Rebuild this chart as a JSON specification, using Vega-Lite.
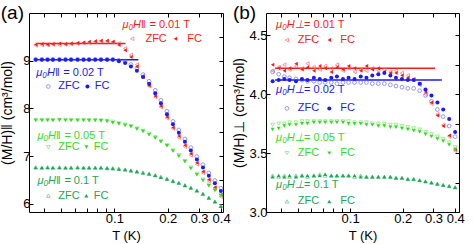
{
"$schema": "https://vega.github.io/schema/vega-lite/v6.json",
"padding": {"left": 0, "top": 3, "right": 4, "bottom": 0},
"config": {
  "font": "Liberation Sans",
  "view": {"stroke": "black", "strokeWidth": 1},
  "axis": {"domain": false, "grid": false, "tickColor": "black", "tickSize": -4, "labelColor": "black", "labelFontSize": 13, "titleColor": "black", "titleFontWeight": "normal", "titleFontSize": 13, "labelOverlap": false, "labelFlush": false},
  "title": {"fontWeight": "normal", "fontSize": 19, "color": "black", "anchor": "start", "frame": "bounds", "offset": -10}
},
"datasets": {
  "pa": [
    {"T":0.036,"rf":9.34,"rz":9.32,"bf":9.02,"bz":9.03,"gf":7.75,"gz":7.76,"df":6.76,"dz":6.77},
    {"T":0.039,"rf":9.35,"rz":9.33,"bf":9.02,"bz":9.03,"gf":7.75,"gz":7.76,"df":6.76,"dz":6.76},
    {"T":0.042,"rf":9.34,"rz":9.33,"bf":9.02,"bz":9.03,"gf":7.75,"gz":7.76,"df":6.76,"dz":6.77},
    {"T":0.045,"rf":9.35,"rz":9.34,"bf":9.02,"bz":9.03,"gf":7.75,"gz":7.75,"df":6.76,"dz":6.76},
    {"T":0.049,"rf":9.36,"rz":9.33,"bf":9.02,"bz":9.03,"gf":7.76,"gz":7.76,"df":6.76,"dz":6.77},
    {"T":0.053,"rf":9.35,"rz":9.34,"bf":9.02,"bz":9.03,"gf":7.75,"gz":7.76,"df":6.76,"dz":6.76},
    {"T":0.057,"rf":9.36,"rz":9.35,"bf":9.02,"bz":9.03,"gf":7.75,"gz":7.76,"df":6.76,"dz":6.76},
    {"T":0.062,"rf":9.37,"rz":9.36,"bf":9.02,"bz":9.03,"gf":7.75,"gz":7.75,"df":6.76,"dz":6.77},
    {"T":0.067,"rf":9.38,"rz":9.37,"bf":9.02,"bz":9.03,"gf":7.75,"gz":7.76,"df":6.76,"dz":6.76},
    {"T":0.072,"rf":9.40,"rz":9.38,"bf":9.02,"bz":9.03,"gf":7.75,"gz":7.75,"df":6.76,"dz":6.76},
    {"T":0.078,"rf":9.41,"rz":9.40,"bf":9.02,"bz":9.03,"gf":7.75,"gz":7.75,"df":6.76,"dz":6.76},
    {"T":0.084,"rf":9.42,"rz":9.41,"bf":9.02,"bz":9.03,"gf":7.74,"gz":7.75,"df":6.76,"dz":6.76},
    {"T":0.091,"rf":9.42,"rz":9.41,"bf":9.02,"bz":9.03,"gf":7.73,"gz":7.74,"df":6.75,"dz":6.75},
    {"T":0.098,"rf":9.40,"rz":9.39,"bf":9.02,"bz":9.03,"gf":7.70,"gz":7.72,"df":6.74,"dz":6.75},
    {"T":0.106,"rf":9.33,"rz":9.36,"bf":8.99,"bz":9.01,"gf":7.68,"gz":7.69,"df":6.73,"dz":6.74},
    {"T":0.115,"rf":9.22,"rz":9.26,"bf":8.95,"bz":8.98,"gf":7.65,"gz":7.66,"df":6.72,"dz":6.72},
    {"T":0.124,"rf":9.08,"rz":9.12,"bf":8.88,"bz":8.92,"gf":7.62,"gz":7.63,"df":6.70,"dz":6.70},
    {"T":0.134,"rf":8.88,"rz":8.92,"bf":8.79,"bz":8.83,"gf":7.57,"gz":7.58,"df":6.68,"dz":6.68},
    {"T":0.145,"rf":8.66,"rz":8.68,"bf":8.66,"bz":8.71,"gf":7.52,"gz":7.53,"df":6.65,"dz":6.66},
    {"T":0.157,"rf":8.48,"rz":8.47,"bf":8.52,"bz":8.57,"gf":7.45,"gz":7.47,"df":6.63,"dz":6.63},
    {"T":0.170,"rf":8.26,"rz":8.24,"bf":8.32,"bz":8.38,"gf":7.38,"gz":7.40,"df":6.60,"dz":6.60},
    {"T":0.183,"rf":8.05,"rz":8.03,"bf":8.11,"bz":8.17,"gf":7.30,"gz":7.32,"df":6.56,"dz":6.57},
    {"T":0.198,"rf":7.82,"rz":7.80,"bf":7.88,"bz":7.94,"gf":7.22,"gz":7.23,"df":6.52,"dz":6.53},
    {"T":0.214,"rf":7.60,"rz":7.58,"bf":7.67,"bz":7.73,"gf":7.11,"gz":7.12,"df":6.48,"dz":6.48},
    {"T":0.231,"rf":7.42,"rz":7.39,"bf":7.49,"bz":7.55,"gf":7.00,"gz":7.02,"df":6.44,"dz":6.44},
    {"T":0.250,"rf":7.23,"rz":7.20,"bf":7.30,"bz":7.36,"gf":6.89,"gz":6.90,"df":6.39,"dz":6.39},
    {"T":0.270,"rf":7.05,"rz":7.02,"bf":7.12,"bz":7.18,"gf":6.74,"gz":6.76,"df":6.34,"dz":6.34},
    {"T":0.292,"rf":6.86,"rz":6.83,"bf":6.93,"bz":6.99,"gf":6.61,"gz":6.63,"df":6.28,"dz":6.28},
    {"T":0.316,"rf":6.68,"rz":6.65,"bf":6.76,"bz":6.82,"gf":6.49,"gz":6.51,"df":6.21,"dz":6.21},
    {"T":0.341,"rf":6.51,"rz":6.48,"bf":6.59,"bz":6.65,"gf":6.38,"gz":6.40,"df":6.13,"dz":6.13},
    {"T":0.369,"rf":6.35,"rz":6.32,"bf":6.43,"bz":6.49,"gf":6.28,"gz":6.30,"df":6.05,"dz":6.05},
    {"T":0.399,"rf":6.19,"rz":6.15,"bf":6.27,"bz":6.33,"gf":6.17,"gz":6.19,"df":5.95,"dz":5.96}
  ],
  "pb": [
    {"T":0.036,"rf":4.25,"rz":4.20,"bf":4.11,"bz":4.19,"gf":3.70,"gz":3.74,"df":3.30,"dz":3.31},
    {"T":0.039,"rf":4.22,"rz":4.23,"bf":4.12,"bz":4.17,"gf":3.71,"gz":3.75,"df":3.31,"dz":3.30},
    {"T":0.042,"rf":4.20,"rz":4.25,"bf":4.13,"bz":4.15,"gf":3.73,"gz":3.75,"df":3.30,"dz":3.31},
    {"T":0.045,"rf":4.22,"rz":4.21,"bf":4.12,"bz":4.14,"gf":3.74,"gz":3.76,"df":3.31,"dz":3.30},
    {"T":0.049,"rf":4.26,"rz":4.24,"bf":4.11,"bz":4.13,"gf":3.74,"gz":3.76,"df":3.30,"dz":3.31},
    {"T":0.053,"rf":4.21,"rz":4.22,"bf":4.13,"bz":4.12,"gf":3.75,"gz":3.77,"df":3.31,"dz":3.31},
    {"T":0.057,"rf":4.23,"rz":4.26,"bf":4.12,"bz":4.11,"gf":3.75,"gz":3.77,"df":3.31,"dz":3.30},
    {"T":0.062,"rf":4.20,"rz":4.23,"bf":4.14,"bz":4.11,"gf":3.76,"gz":3.77,"df":3.31,"dz":3.31},
    {"T":0.067,"rf":4.24,"rz":4.21,"bf":4.13,"bz":4.10,"gf":3.76,"gz":3.77,"df":3.31,"dz":3.32},
    {"T":0.072,"rf":4.22,"rz":4.24,"bf":4.12,"bz":4.10,"gf":3.76,"gz":3.77,"df":3.32,"dz":3.31},
    {"T":0.078,"rf":4.19,"rz":4.22,"bf":4.14,"bz":4.10,"gf":3.76,"gz":3.77,"df":3.31,"dz":3.31},
    {"T":0.084,"rf":4.23,"rz":4.25,"bf":4.15,"bz":4.09,"gf":3.76,"gz":3.77,"df":3.31,"dz":3.31},
    {"T":0.091,"rf":4.21,"rz":4.20,"bf":4.13,"bz":4.10,"gf":3.76,"gz":3.77,"df":3.31,"dz":3.31},
    {"T":0.098,"rf":4.24,"rz":4.22,"bf":4.14,"bz":4.10,"gf":3.75,"gz":3.77,"df":3.31,"dz":3.31},
    {"T":0.106,"rf":4.22,"rz":4.19,"bf":4.13,"bz":4.10,"gf":3.75,"gz":3.76,"df":3.31,"dz":3.30},
    {"T":0.115,"rf":4.20,"rz":4.21,"bf":4.15,"bz":4.10,"gf":3.75,"gz":3.76,"df":3.30,"dz":3.31},
    {"T":0.124,"rf":4.24,"rz":4.20,"bf":4.14,"bz":4.10,"gf":3.74,"gz":3.76,"df":3.30,"dz":3.30},
    {"T":0.134,"rf":4.21,"rz":4.22,"bf":4.16,"bz":4.09,"gf":3.74,"gz":3.75,"df":3.30,"dz":3.30},
    {"T":0.145,"rf":4.22,"rz":4.20,"bf":4.17,"bz":4.09,"gf":3.73,"gz":3.75,"df":3.30,"dz":3.30},
    {"T":0.157,"rf":4.19,"rz":4.21,"bf":4.18,"bz":4.09,"gf":3.73,"gz":3.75,"df":3.30,"dz":3.30},
    {"T":0.170,"rf":4.18,"rz":4.19,"bf":4.16,"bz":4.08,"gf":3.72,"gz":3.74,"df":3.30,"dz":3.30},
    {"T":0.183,"rf":4.18,"rz":4.20,"bf":4.14,"bz":4.07,"gf":3.72,"gz":3.74,"df":3.29,"dz":3.29},
    {"T":0.198,"rf":4.16,"rz":4.18,"bf":4.13,"bz":4.06,"gf":3.71,"gz":3.73,"df":3.29,"dz":3.29},
    {"T":0.214,"rf":4.14,"rz":4.16,"bf":4.12,"bz":4.05,"gf":3.70,"gz":3.72,"df":3.28,"dz":3.28},
    {"T":0.231,"rf":4.12,"rz":4.13,"bf":4.12,"bz":4.05,"gf":3.69,"gz":3.71,"df":3.28,"dz":3.28},
    {"T":0.250,"rf":4.09,"rz":4.08,"bf":4.09,"bz":4.03,"gf":3.68,"gz":3.70,"df":3.27,"dz":3.27},
    {"T":0.270,"rf":4.02,"rz":4.00,"bf":4.04,"bz":3.99,"gf":3.66,"gz":3.68,"df":3.26,"dz":3.26},
    {"T":0.292,"rf":3.93,"rz":3.92,"bf":3.99,"bz":3.94,"gf":3.64,"gz":3.66,"df":3.25,"dz":3.25},
    {"T":0.316,"rf":3.82,"rz":3.83,"bf":3.93,"bz":3.87,"gf":3.62,"gz":3.64,"df":3.24,"dz":3.24},
    {"T":0.341,"rf":3.73,"rz":3.74,"bf":3.87,"bz":3.81,"gf":3.60,"gz":3.62,"df":3.23,"dz":3.23},
    {"T":0.369,"rf":3.65,"rz":3.64,"bf":3.79,"bz":3.73,"gf":3.57,"gz":3.59,"df":3.22,"dz":3.22},
    {"T":0.399,"rf":3.53,"rz":3.52,"bf":3.68,"bz":3.64,"gf":3.53,"gz":3.55,"df":3.21,"dz":3.21}
  ],
  "ra": [
    {"T":0.0363,"T2":0.1154,"M":9.36,"k":"rf"},
    {"T":0.0363,"T2":0.1366,"M":9.02,"k":"bf"}
  ],
  "rb": [
    {"T":0.0372,"T2":0.306,"M":4.22,"k":"rf"},
    {"T":0.0372,"T2":0.335,"M":4.12,"k":"bf"}
  ],
  "sa": [
    {"T":0.126,"M":9.46,"key":"rz","f":0},
    {"T":0.221,"M":9.46,"key":"rf","f":1},
    {"T":0.0424,"M":8.46,"key":"bz","f":0},
    {"T":0.0705,"M":8.46,"key":"bf","f":1},
    {"T":0.0424,"M":7.19,"key":"gz","f":0},
    {"T":0.0695,"M":7.19,"key":"gf","f":1},
    {"T":0.0424,"M":6.17,"key":"dz","f":0},
    {"T":0.0695,"M":6.17,"key":"df","f":1}
  ],
  "sb": [
    {"T":0.0435,"M":4.46,"key":"rz","f":0},
    {"T":0.076,"M":4.46,"key":"rf","f":1},
    {"T":0.0435,"M":3.88,"key":"bz","f":0},
    {"T":0.076,"M":3.88,"key":"bf","f":1},
    {"T":0.0435,"M":3.50,"key":"gz","f":0},
    {"T":0.076,"M":3.50,"key":"gf","f":1},
    {"T":0.0435,"M":3.09,"key":"dz","f":0},
    {"T":0.076,"M":3.09,"key":"df","f":1}
  ],
  "ta": [
    {"T":0.111,"M":9.75,"t":"μ₀H‖","k":"rf","s":"p"},
    {"T":0.111,"M":9.75,"t":"= 0.01 T","k":"rf","s":"r"},
    {"T":0.1497,"M":9.46,"t":"ZFC","k":"rf","s":"l"},
    {"T":0.258,"M":9.46,"t":"FC","k":"rf","s":"l"},
    {"T":0.0363,"M":8.75,"t":"μ₀H‖","k":"bf","s":"p"},
    {"T":0.0363,"M":8.75,"t":"= 0.02 T","k":"bf","s":"r"},
    {"T":0.0483,"M":8.46,"t":"ZFC","k":"bf","s":"l"},
    {"T":0.0775,"M":8.46,"t":"FC","k":"bf","s":"l"},
    {"T":0.0368,"M":7.42,"t":"μ₀H‖","k":"gf","s":"p"},
    {"T":0.0368,"M":7.42,"t":"= 0.05 T","k":"gf","s":"r"},
    {"T":0.0483,"M":7.19,"t":"ZFC","k":"gf","s":"l"},
    {"T":0.0765,"M":7.19,"t":"FC","k":"gf","s":"l"},
    {"T":0.0368,"M":6.48,"t":"μ₀H‖","k":"df","s":"p"},
    {"T":0.0368,"M":6.48,"t":"= 0.1 T","k":"df","s":"r"},
    {"T":0.0483,"M":6.17,"t":"ZFC","k":"df","s":"l"},
    {"T":0.0765,"M":6.17,"t":"FC","k":"df","s":"l"}
  ],
  "tb": [
    {"T":0.0377,"M":4.585,"t":"μ₀H⊥","k":"rf","s":"p"},
    {"T":0.0377,"M":4.585,"t":"= 0.01 T","k":"rf","s":"r"},
    {"T":0.0502,"M":4.46,"t":"ZFC","k":"rf","s":"l"},
    {"T":0.0878,"M":4.46,"t":"FC","k":"rf","s":"l"},
    {"T":0.0377,"M":4.04,"t":"μ₀H⊥","k":"bf","s":"p"},
    {"T":0.0377,"M":4.04,"t":"= 0.02 T","k":"bf","s":"r"},
    {"T":0.0502,"M":3.88,"t":"ZFC","k":"bf","s":"l"},
    {"T":0.0878,"M":3.88,"t":"FC","k":"bf","s":"l"},
    {"T":0.0377,"M":3.63,"t":"μ₀H⊥","k":"gf","s":"p"},
    {"T":0.0377,"M":3.63,"t":"= 0.05 T","k":"gf","s":"r"},
    {"T":0.0502,"M":3.50,"t":"ZFC","k":"gf","s":"l"},
    {"T":0.0878,"M":3.50,"t":"FC","k":"gf","s":"l"},
    {"T":0.0377,"M":3.23,"t":"μ₀H⊥","k":"df","s":"p"},
    {"T":0.0377,"M":3.23,"t":"= 0.1 T","k":"df","s":"r"},
    {"T":0.0502,"M":3.09,"t":"ZFC","k":"df","s":"l"},
    {"T":0.0878,"M":3.09,"t":"FC","k":"df","s":"l"}
  ]
},
"bounds": "flush",
"spacing": 43,
"hconcat": [
  {
    "width": 194, "height": 199,
    "title": {"text": "(a)"},
    "resolve": {"axis": {"x": "independent", "y": "independent"}},
    "layer": [
      {"layer": [
        {"data": {"name": "ra"}, "mark": {"type": "rule", "strokeWidth": 1.5},
         "encoding": {
           "x": {"field": "T", "type": "quantitative", "scale": {"type": "log", "domain": [0.033, 0.41], "nice": false},
                 "axis": {"title": "T (K)", "values": [0.04,0.05,0.06,0.07,0.08,0.09,0.1,0.2,0.3,0.4], "format": ".1f", "labelExpr": "(datum.value==0.1||datum.value==0.2||datum.value==0.3||datum.value==0.4) ? datum.label : ''", "labelPadding": 4, "titlePadding": 4}},
           "x2": {"field": "T2"},
           "y": {"field": "M", "type": "quantitative", "scale": {"domain": [5.83, 10.0], "nice": false, "zero": false},
                 "axis": {"title": "(M/H)‖ (cm³/mol)", "titleFontSize": 14, "values": [6,6.5,7,7.5,8,8.5,9,9.5], "format": ".0f", "labelExpr": "datum.value % 1 == 0 ? datum.label : ''", "labelPadding": 3, "titlePadding": 8}},
           "color": {"field": "k", "type": "nominal", "legend": null,
                     "scale": {"domain": ["rz","rf","bz","bf","gz","gf","dz","df"], "range": ["#ff6a6a","#ff1a1a","#6a6aff","#1a1aff","#70ee60","#33dd22","#5cc488","#1aa852"]}}
         }},
        {"data": {"name": "pa"}, "transform": [{"fold": ["rz","bz","gz","dz"], "as": ["key","M"]}],
         "mark": {"type": "point", "filled": false, "size": 14, "strokeWidth": 1},
         "encoding": {
           "x": {"field": "T", "type": "quantitative"},
           "y": {"field": "M", "type": "quantitative"},
           "color": {"field": "key", "type": "nominal", "legend": null},
           "shape": {"field": "key", "type": "nominal", "legend": null,
                     "scale": {"domain": ["rz","rf","bz","bf","gz","gf","dz","df"], "range": ["triangle-left","triangle-left","circle","circle","triangle-down","triangle-down","triangle-up","triangle-up"]}}
         }},
        {"data": {"name": "pa"}, "transform": [{"fold": ["rf","bf","gf","df"], "as": ["key","M"]}],
         "mark": {"type": "point", "filled": true, "size": 16, "opacity": 1},
         "encoding": {
           "x": {"field": "T", "type": "quantitative"},
           "y": {"field": "M", "type": "quantitative"},
           "color": {"field": "key", "type": "nominal", "legend": null},
           "shape": {"field": "key", "type": "nominal", "legend": null}
         }},
        {"data": {"name": "sa"}, "transform": [{"filter": "datum.f == 0"}],
         "mark": {"type": "point", "filled": false, "size": 14, "strokeWidth": 1},
         "encoding": {
           "x": {"field": "T", "type": "quantitative"},
           "y": {"field": "M", "type": "quantitative"},
           "color": {"field": "key", "type": "nominal", "legend": null},
           "shape": {"field": "key", "type": "nominal", "legend": null}
         }},
        {"data": {"name": "sa"}, "transform": [{"filter": "datum.f == 1"}],
         "mark": {"type": "point", "filled": true, "size": 16, "opacity": 1},
         "encoding": {
           "x": {"field": "T", "type": "quantitative"},
           "y": {"field": "M", "type": "quantitative"},
           "color": {"field": "key", "type": "nominal", "legend": null},
           "shape": {"field": "key", "type": "nominal", "legend": null}
         }},
        {"data": {"name": "ta"}, "transform": [{"filter": "datum.s == 'p'"}],
         "mark": {"type": "text", "align": "left", "baseline": "middle", "fontSize": 11, "fontStyle": "italic"},
         "encoding": {
           "x": {"field": "T", "type": "quantitative"},
           "y": {"field": "M", "type": "quantitative"},
           "text": {"field": "t"},
           "color": {"field": "k", "type": "nominal", "legend": null}
         }},
        {"data": {"name": "ta"}, "transform": [{"filter": "datum.s == 'r'"}],
         "mark": {"type": "text", "align": "left", "baseline": "middle", "fontSize": 11, "dx": 27},
         "encoding": {
           "x": {"field": "T", "type": "quantitative"},
           "y": {"field": "M", "type": "quantitative"},
           "text": {"field": "t"},
           "color": {"field": "k", "type": "nominal", "legend": null}
         }},
        {"data": {"name": "ta"}, "transform": [{"filter": "datum.s == 'l'"}],
         "mark": {"type": "text", "align": "left", "baseline": "middle", "fontSize": 11},
         "encoding": {
           "x": {"field": "T", "type": "quantitative"},
           "y": {"field": "M", "type": "quantitative"},
           "text": {"field": "t"},
           "color": {"field": "k", "type": "nominal", "legend": null}
         }}
      ]},
      {"data": {"name": "ra"}, "mark": {"type": "point", "opacity": 0},
       "encoding": {
         "x": {"field": "T", "type": "quantitative", "axis": {"orient": "top", "labels": false, "title": null, "values": [0.04,0.05,0.06,0.07,0.08,0.09,0.1,0.2,0.3,0.4]}},
         "y": {"field": "M", "type": "quantitative", "axis": {"orient": "right", "labels": false, "title": null, "values": [6,6.5,7,7.5,8,8.5,9,9.5]}}
       }}
    ]
  },
  {
    "width": 193, "height": 199,
    "title": {"text": "(b)"},
    "resolve": {"axis": {"x": "independent", "y": "independent"}},
    "layer": [
      {"layer": [
        {"data": {"name": "rb"}, "mark": {"type": "rule", "strokeWidth": 1.5},
         "encoding": {
           "x": {"field": "T", "type": "quantitative", "scale": {"type": "log", "domain": [0.033, 0.42], "nice": false},
                 "axis": {"title": "T (K)", "values": [0.04,0.05,0.06,0.07,0.08,0.09,0.1,0.2,0.3,0.4], "format": ".1f", "labelExpr": "(datum.value==0.1||datum.value==0.2||datum.value==0.3||datum.value==0.4) ? datum.label : ''", "labelPadding": 4, "titlePadding": 4}},
           "x2": {"field": "T2"},
           "y": {"field": "M", "type": "quantitative", "scale": {"domain": [3.0, 4.69], "nice": false, "zero": false},
                 "axis": {"title": "(M/H)⊥ (cm³/mol)", "titleFontSize": 14, "values": [3.0,3.25,3.5,3.75,4.0,4.25,4.5], "format": ".1f", "labelExpr": "(datum.value * 2) % 1 == 0 ? datum.label : ''", "labelPadding": 3, "titlePadding": 2}},
           "color": {"field": "k", "type": "nominal", "legend": null,
                     "scale": {"domain": ["rz","rf","bz","bf","gz","gf","dz","df"], "range": ["#ff6a6a","#ff1a1a","#6a6aff","#1a1aff","#70ee60","#33dd22","#5cc488","#1aa852"]}}
         }},
        {"data": {"name": "pb"}, "transform": [{"fold": ["rz","bz","gz","dz"], "as": ["key","M"]}],
         "mark": {"type": "point", "filled": false, "size": 14, "strokeWidth": 1},
         "encoding": {
           "x": {"field": "T", "type": "quantitative"},
           "y": {"field": "M", "type": "quantitative"},
           "color": {"field": "key", "type": "nominal", "legend": null},
           "shape": {"field": "key", "type": "nominal", "legend": null,
                     "scale": {"domain": ["rz","rf","bz","bf","gz","gf","dz","df"], "range": ["triangle-left","triangle-left","circle","circle","triangle-down","triangle-down","triangle-up","triangle-up"]}}
         }},
        {"data": {"name": "pb"}, "transform": [{"fold": ["rf","bf","gf","df"], "as": ["key","M"]}],
         "mark": {"type": "point", "filled": true, "size": 16, "opacity": 1},
         "encoding": {
           "x": {"field": "T", "type": "quantitative"},
           "y": {"field": "M", "type": "quantitative"},
           "color": {"field": "key", "type": "nominal", "legend": null},
           "shape": {"field": "key", "type": "nominal", "legend": null}
         }},
        {"data": {"name": "sb"}, "transform": [{"filter": "datum.f == 0"}],
         "mark": {"type": "point", "filled": false, "size": 14, "strokeWidth": 1},
         "encoding": {
           "x": {"field": "T", "type": "quantitative"},
           "y": {"field": "M", "type": "quantitative"},
           "color": {"field": "key", "type": "nominal", "legend": null},
           "shape": {"field": "key", "type": "nominal", "legend": null}
         }},
        {"data": {"name": "sb"}, "transform": [{"filter": "datum.f == 1"}],
         "mark": {"type": "point", "filled": true, "size": 16, "opacity": 1},
         "encoding": {
           "x": {"field": "T", "type": "quantitative"},
           "y": {"field": "M", "type": "quantitative"},
           "color": {"field": "key", "type": "nominal", "legend": null},
           "shape": {"field": "key", "type": "nominal", "legend": null}
         }},
        {"data": {"name": "tb"}, "transform": [{"filter": "datum.s == 'p'"}],
         "mark": {"type": "text", "align": "left", "baseline": "middle", "fontSize": 11, "fontStyle": "italic"},
         "encoding": {
           "x": {"field": "T", "type": "quantitative"},
           "y": {"field": "M", "type": "quantitative"},
           "text": {"field": "t"},
           "color": {"field": "k", "type": "nominal", "legend": null}
         }},
        {"data": {"name": "tb"}, "transform": [{"filter": "datum.s == 'r'"}],
         "mark": {"type": "text", "align": "left", "baseline": "middle", "fontSize": 11, "dx": 28},
         "encoding": {
           "x": {"field": "T", "type": "quantitative"},
           "y": {"field": "M", "type": "quantitative"},
           "text": {"field": "t"},
           "color": {"field": "k", "type": "nominal", "legend": null}
         }},
        {"data": {"name": "tb"}, "transform": [{"filter": "datum.s == 'l'"}],
         "mark": {"type": "text", "align": "left", "baseline": "middle", "fontSize": 11},
         "encoding": {
           "x": {"field": "T", "type": "quantitative"},
           "y": {"field": "M", "type": "quantitative"},
           "text": {"field": "t"},
           "color": {"field": "k", "type": "nominal", "legend": null}
         }}
      ]},
      {"data": {"name": "rb"}, "mark": {"type": "point", "opacity": 0},
       "encoding": {
         "x": {"field": "T", "type": "quantitative", "axis": {"orient": "top", "labels": false, "title": null, "values": [0.04,0.05,0.06,0.07,0.08,0.09,0.1,0.2,0.3,0.4]}},
         "y": {"field": "M", "type": "quantitative", "axis": {"orient": "right", "labels": false, "title": null, "values": [3.0,3.25,3.5,3.75,4.0,4.25,4.5]}}
       }}
    ]
  }
]
}
